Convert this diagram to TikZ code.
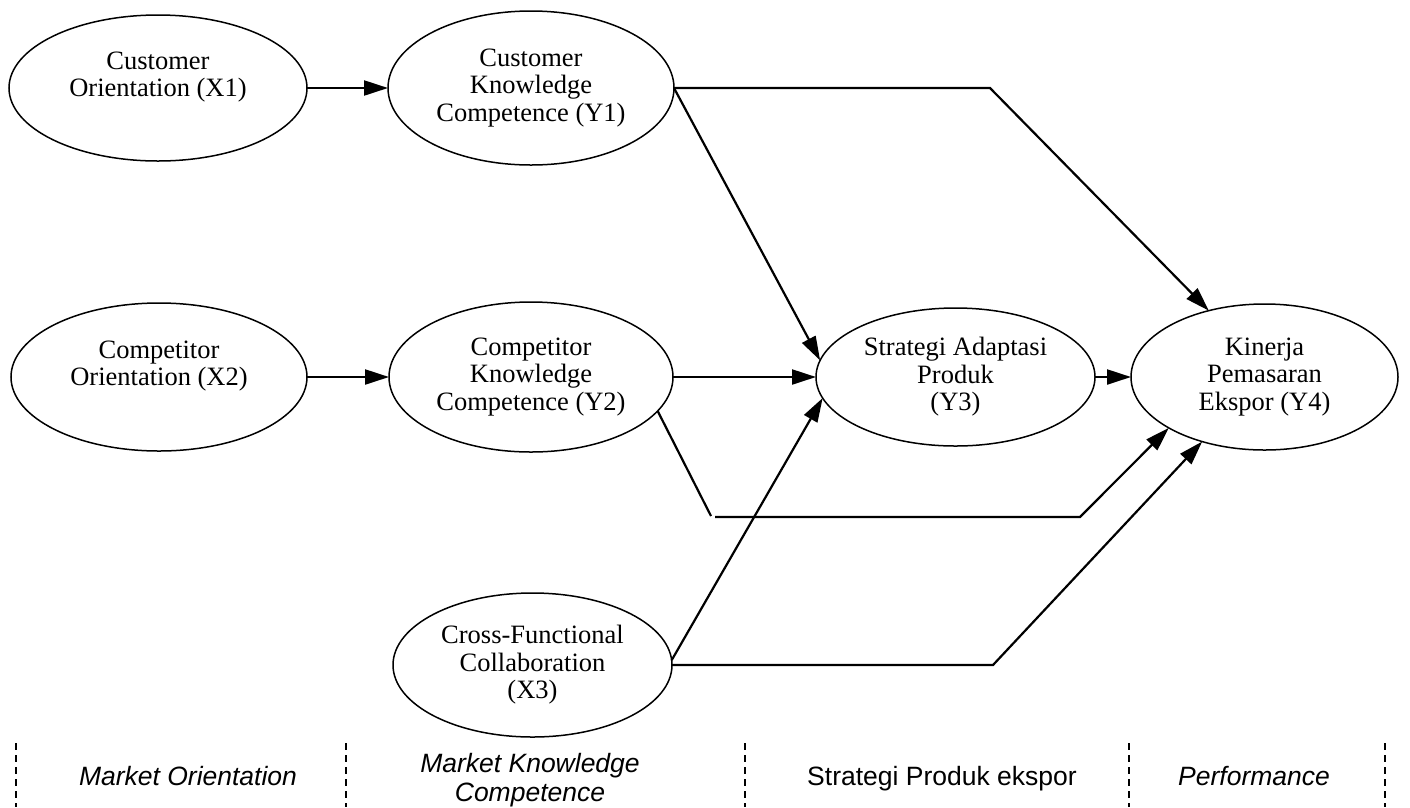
\documentclass[tikz,border=0pt]{standalone}
\usepackage{fontspec}
\setmainfont{Liberation Serif}
\setsansfont{Liberation Sans}
\usetikzlibrary{arrows.meta,shapes.geometric}
\begin{document}
\begin{tikzpicture}[x=1pt,y=-1pt,
  var/.style={ellipse,draw,line width=1.5pt,inner sep=0pt,outer sep=0pt,align=center,
              font=\fontsize{26.5}{27.5}\selectfont},
  conn/.style={line width=2.2pt},
  arr/.style={conn,-{Triangle[length=24pt,width=15pt]}},
  lab/.style={font=\sffamily\fontsize{26.5}{29}\selectfont,align=center,inner sep=0pt},
  labi/.style={font=\sffamily\itshape\fontsize{26.5}{29}\selectfont,align=center,inner sep=0pt},
  sep/.style={dash pattern=on 7pt off 5pt,line width=1.2pt}]
\useasboundingbox (0,0) rectangle (1410,807);

% variables
\node[var,minimum width=298pt,minimum height=146pt] (X1) at (158,88) {Customer\\Orientation (X1)\\\mbox{}};
\node[var,minimum width=286pt,minimum height=154pt] (Y1) at (531,88) {Customer\\Knowledge\\Competence (Y1)};
\node[var,minimum width=296pt,minimum height=148pt] (X2) at (159,377) {Competitor\\Orientation (X2)\\\mbox{}};
\node[var,minimum width=284pt,minimum height=150pt] (Y2) at (531,377) {Competitor\\Knowledge\\Competence (Y2)};
\node[var,minimum width=279pt,minimum height=144pt] (X3) at (532.5,665) {Cross-Functional\\Collaboration\\(X3)};
\node[var,minimum width=279pt,minimum height=138pt] (Y3) at (955.5,377) {Strategi Adaptasi\\Produk\\(Y3)};
\node[var,minimum width=267pt,minimum height=146pt] (Y4) at (1264.5,377) {Kinerja\\Pemasaran\\Ekspor (Y4)};

% bend points
\coordinate (b1) at (990,88);
\coordinate (g1) at (711,516);
\coordinate (g2) at (715,517);
\coordinate (b2) at (1080,517);
\coordinate (b3) at (993,665);

% connectors
\draw[arr] (X1) -- (Y1);
\draw[arr] (X2) -- (Y2);
\draw[arr] (Y1.east) -- (b1) -- (Y4.130);
\draw[arr] (Y1.east) -- (Y3.173);
\draw[arr] (Y2.east) -- (Y3.west);
\draw[arr] (Y3.east) -- (Y4.west);
\draw[conn] (Y2.-15) -- (g1);
\draw[arr] (g2) -- (b2) -- (Y4.208);
\draw[arr] (X3.2) -- (Y3.189);
\draw[arr] (X3.east) -- (b3) -- (Y4.226);

% bottom labels
\node[labi,anchor=base] (L1) at (188,785) {Market Orientation};
\node[labi] (L2) at (530,780) {Market Knowledge\\Competence};
\node[lab,anchor=base] (L3) at (942,785) {Strategi Produk ekspor};
\node[labi,anchor=base] (L4) at (1254,785) {Performance};

% separators
\foreach \xx [count=\i] in {16,346,745,1129,1385}{
  \coordinate (s\i t) at (\xx,743);
  \coordinate (s\i b) at (\xx,807);
  \draw[sep] (s\i t) -- (s\i b);
}
\end{tikzpicture}
\end{document}
